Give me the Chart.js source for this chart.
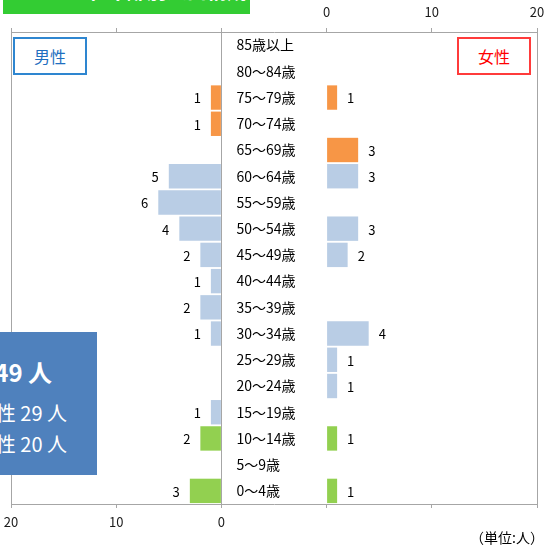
<!DOCTYPE html>
<html lang="ja">
<head>
<meta charset="UTF-8" />
<title>年齢別人口構成</title>
<script src="https://cdn.jsdelivr.net/npm/chart.js"></script>
<style>
  html, body { margin: 0; padding: 0; background: #fff; overflow: hidden; }
  body { width: 545px; height: 549px; position: relative; font-family: "Noto Sans CJK JP", sans-serif; }
  #pyramid { position: absolute; left: 0; top: 0; }
  .banner { position: absolute; left: 3px; top: 0; width: 247px; height: 14px; background: #33cc33; overflow: hidden; }
  .banner span { position: absolute; left: 32px; top: -24px; color: #fff; font-weight: bold; font-size: 20px; white-space: nowrap; }
  .sex { position: absolute; top: 37px; width: 70px; height: 34px; line-height: 34px; border-width: 2px; border-style: solid; text-align: center; font-size: 16px; background: #fff; }
  .male { left: 13px; border-color: #2e86d0; color: #1f6fc0; }
  .female { left: 457px; border-color: #ff3b3b; color: #ff0000; }
  .total { position: absolute; left: -100px; top: 332px; width: 197px; height: 143px; background: #4f81bd; color: #fff; }
  .total div { position: absolute; white-space: nowrap; }
  .t1 { right: 45px; top: 26px; font-size: 24px; line-height: 28px; font-weight: bold; }
  .t2 { right: 30px; top: 69px; font-size: 20px; line-height: 24px; }
  .t3 { right: 30px; top: 100px; font-size: 20px; line-height: 24px; }
  .unit { position: absolute; right: 1px; top: 527px; font-size: 14px; color: #000; }
</style>
</head>
<body>
  <canvas id="pyramid" width="545" height="549"></canvas>

  <div class="banner"><span>2015年 年齢別人口構成</span></div>
  <div class="sex male">男性</div>
  <div class="sex female">女性</div>
  <div class="total">
    <div class="t1">総数 49 人</div>
    <div class="t2">男性 29 人</div>
    <div class="t3">女性 20 人</div>
  </div>
  <div class="unit">（単位:人）</div>

<script>
  // age groups, top row first
  const ages = [
    "85歳以上", "80～84歳", "75～79歳", "70～74歳", "65～69歳",
    "60～64歳", "55～59歳", "50～54歳", "45～49歳", "40～44歳",
    "35～39歳", "30～34歳", "25～29歳", "20～24歳", "15～19歳",
    "10～14歳", "5～9歳", "0～4歳"
  ];
  const male   = [0, 0, 1, 1, 0, 5, 6, 4, 2, 1, 2, 1, 0, 0, 1, 2, 0, 3];
  const female = [0, 0, 1, 0, 3, 3, 0, 3, 2, 0, 0, 4, 1, 1, 0, 1, 0, 1];

  // 65+ / 15-64 / 0-14
  const ORANGE = "#f79646", BLUE = "#b9cde5", GREEN = "#92d050";
  const barColor = i => (i < 5 ? ORANGE : i < 15 ? BLUE : GREEN);
  const colors = ages.map((_, i) => barColor(i));

  const GRID = "#a6a6a6";
  const FONT = '"Noto Sans CJK JP", sans-serif';
  Chart.defaults.font.family = FONT;
  Chart.defaults.font.size = 13;
  Chart.defaults.color = "#1a1a1a";

  // negative ticks are only there to push the two halves apart
  const hideNeg = v => (v < 0 ? "" : v);

  // age names in the middle column and counts next to each bar
  const labelPlugin = {
    id: "pyramidLabels",
    afterDatasetsDraw(chart) {
      const { ctx, scales } = chart;
      const xm = scales.xm, y = scales.y;
      ctx.save();
      ctx.font = "14px " + FONT;
      ctx.fillStyle = "#000";
      ctx.textBaseline = "middle";
      ctx.textAlign = "left";
      const colX = xm.getPixelForValue(0) + 15;
      ages.forEach((a, i) => ctx.fillText(a, colX, y.getPixelForValue(i)));

      ctx.font = "13px " + FONT;
      chart.getDatasetMeta(0).data.forEach((bar, i) => {
        if (!male[i]) return;
        ctx.textAlign = "right";
        ctx.fillText(male[i], bar.x - 10, bar.y + 1);
      });
      chart.getDatasetMeta(1).data.forEach((bar, i) => {
        if (!female[i]) return;
        ctx.textAlign = "left";
        ctx.fillText(female[i], bar.x + 10, bar.y + 1);
      });
      ctx.restore();
    }
  };

  new Chart(document.getElementById("pyramid"), {
    type: "bar",
    data: {
      labels: ages,
      datasets: [
        { label: "男性", data: male, xAxisID: "xm", backgroundColor: colors,
          grouped: false, barPercentage: 0.93, categoryPercentage: 1 },
        { label: "女性", data: female, xAxisID: "xf", backgroundColor: colors,
          grouped: false, barPercentage: 0.93, categoryPercentage: 1 }
      ]
    },
    options: {
      indexAxis: "y",
      responsive: false,
      animation: false,
      layout: { padding: { left: 11, right: 8, top: 0, bottom: 0 } },
      plugins: { legend: { display: false }, tooltip: { enabled: false } },
      scales: {
        y: { display: false },
        xm: {
          position: "bottom",
          reverse: true,
          min: -30, max: 20,
          ticks: { stepSize: 10, maxRotation: 0, autoSkip: false, padding: 6, callback: hideNeg },
          grid: {
            color: c => ([0, 20, -30].includes(c.tick && c.tick.value) ? GRID : "transparent"),
            tickColor: GRID, tickLength: 4
          },
          border: { color: GRID },
          afterFit(s) { s.height = 45; s.paddingLeft = 0; s.paddingRight = 0; }
        },
        xf: {
          position: "top",
          min: -30, max: 20,
          ticks: { stepSize: 10, maxRotation: 0, autoSkip: false, padding: 8, callback: hideNeg },
          grid: { drawOnChartArea: false, tickColor: GRID, tickLength: 4 },
          border: { color: GRID },
          afterFit(s) { s.height = 32; s.paddingLeft = 0; s.paddingRight = 0; }
        }
      }
    },
    plugins: [labelPlugin]
  });
</script>
</body>
</html>
